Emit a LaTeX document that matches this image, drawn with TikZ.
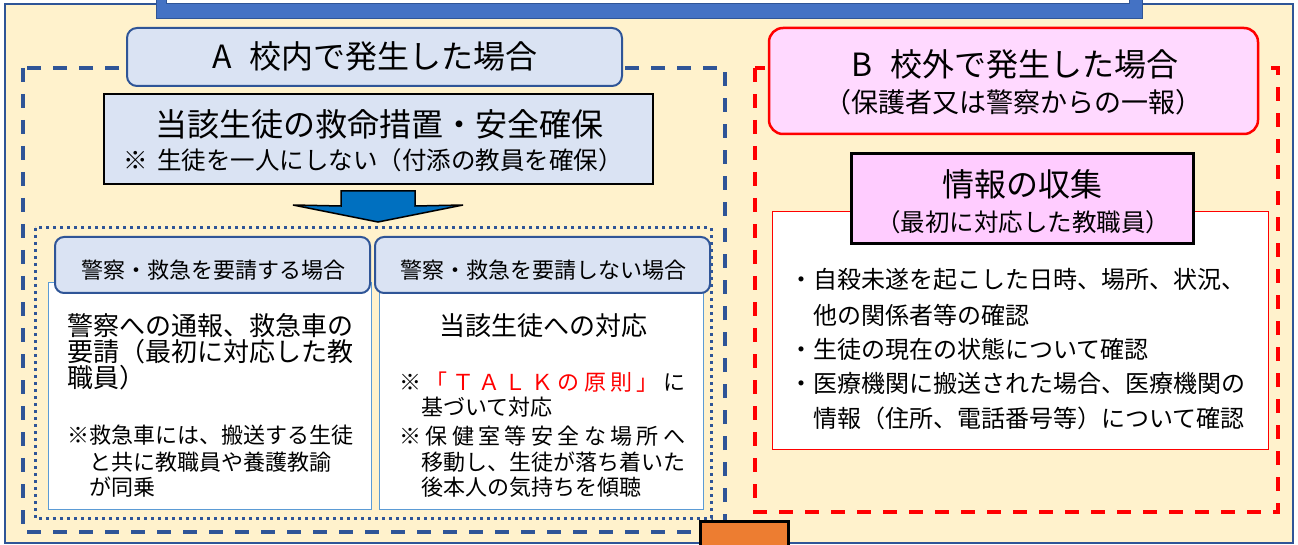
\documentclass[tikz,border=0pt]{standalone}
\usepackage{fontspec}
\setmainfont{Noto Sans CJK JP}
\definecolor{beige}{HTML}{FFF2CC}
\definecolor{dblue}{HTML}{2F5597}
\definecolor{mblue}{HTML}{4472C4}
\definecolor{lblue}{HTML}{DAE3F3}
\definecolor{sblue}{HTML}{5B9BD5}
\definecolor{pinkB}{HTML}{FFD9FF}
\definecolor{pinkI}{HTML}{FFCCFF}
\definecolor{arrowblue}{HTML}{0070C0}
\definecolor{orng}{HTML}{ED7D31}
\newcommand\fsz[1]{\fontsize{#1}{#1}\selectfont}
\makeatletter
\def\spendmark{\spend}
\newcommand\spreadbox[2]{\makebox[#1][s]{\sp@first#2\spend}}
\def\sp@first#1{{#1}\sp@loop}
\def\sp@loop#1{\def\sp@tmp{#1}\ifx\sp@tmp\spendmark\else\hfill{#1}\expandafter\sp@loop\fi}
\makeatother
\tikzset{
  txt/.style={inner sep=0pt, anchor=base west},
  ctxt/.style={inner sep=0pt, anchor=base},
  hdrbox/.style={rounded corners=9pt, fill=lblue, draw=dblue, line width=2pt},
  contbox/.style={fill=white, draw=sblue, line width=1pt},
}
\begin{document}
\begin{tikzpicture}[x=1pt,y=-1pt]
\useasboundingbox (0,0) rectangle (1298,545);
% outer background
\filldraw[fill=beige, draw=dblue, line width=1.5pt] (5,4) rectangle (1293,543);
% top blue box
\filldraw[fill=mblue, draw=dblue, line width=1pt] (156,-6) rectangle (1142,19);
\filldraw[fill=white, draw=dblue, line width=1pt] (166,-6) rectangle (1129,4);
% A dashed frame
\draw[dblue, line width=3.5pt, dash pattern=on 14pt off 12pt] (23,68) rectangle (725,532);
% B dashed frame
\draw[red, line width=4pt, dash pattern=on 14pt off 12pt] (755,68) rectangle (1278,512);
% A title
\draw[rounded corners=10pt, fill=lblue, draw=dblue, line width=2pt] (127,28) rectangle (622,86);
\node[ctxt, font=\fsz{32}] (atitle) at (375,69) {A\hspace{0.55em}校内で発生した場合};
% main box
\draw[fill=lblue, draw=black, line width=2pt] (104,94) rectangle (653,184);
\node[ctxt, font=\fsz{32}] (main1) at (379,137) {当該生徒の救命措置・安全確保};
\node[ctxt, font=\fsz{24.5}] (main2) at (373,170) {※\hspace{0.4em}生徒を一人にしない（付添の教員を確保）};
% arrow
\draw[fill=arrowblue, draw=black, line width=1.5pt, line join=miter]
  (341,191) -- (415,191) -- (415,206) -- (463,205) -- (378,222) -- (293,205) -- (341,206) -- cycle;
% dotted frame
\draw[dblue, line width=3pt, dash pattern=on 2.7pt off 4.3pt] (35,228) rectangle (711,518);
% content boxes
\draw[contbox] (48,283) rectangle (371,509);
\draw[contbox] (379,283) rectangle (703,509);
% headers
\draw[hdrbox] (55,237) rectangle (370,293);
\draw[hdrbox] (375,237) rectangle (710,293);
\node[ctxt, font=\fsz{22}] (hleft) at (213,279) {警察・救急を要請する場合};
\node[ctxt, font=\fsz{22}] (hright) at (543,279) {警察・救急を要請しない場合};
% left content
\node[txt, font=\fsz{26}] (l1) at (67,335) {警察への通報、救急車の};
\node[txt, font=\fsz{26}] (l2) at (67,361) {要請（最初に対応した教};
\node[txt, font=\fsz{26}] (l3) at (67,387) {職員）};
\node[txt, font=\fsz{22}] (l4) at (67,443) {※救急車には、搬送する生徒};
\node[txt, font=\fsz{22}] (l5) at (89,470) {と共に教職員や養護教諭};
\node[txt, font=\fsz{22}] (l6) at (89,495) {が同乗};
% right content
\node[ctxt, font=\fsz{26}] (r1) at (543,335) {当該生徒への対応};
\node[txt, font=\fsz{22}] (r2) at (399,390) {\spreadbox{286pt}{※{\color{red}「}{\color{red}Ｔ}{\color{red}Ａ}{\color{red}Ｌ}{\color{red}Ｋ}{\color{red}の}{\color{red}原}{\color{red}則}{\color{red}」}に}};
\node[txt, font=\fsz{22}] (r3) at (421,415) {基づいて対応};
\node[txt, font=\fsz{22}] (r4) at (399,444) {\spreadbox{286pt}{※保健室等安全な場所へ}};
\node[txt, font=\fsz{22}] (r5) at (421,470) {移動し、生徒が落ち着いた};
\node[txt, font=\fsz{22}] (r6) at (421,495) {後本人の気持ちを傾聴};
% B title box
\draw[rounded corners=14pt, fill=pinkB, draw=red, line width=2.5pt] (769,28) rectangle (1258,134);
\node[ctxt, font=\fsz{32}] (btitle) at (1015,77) {B\hspace{0.55em}校外で発生した場合};
\node[ctxt, font=\fsz{27}] (bsub) at (1013,113) {（保護者又は警察からの一報）};
% info white box
\draw[fill=white, draw=red, line width=1pt] (772,212) rectangle (1268,449);
% info pink box
\draw[fill=pinkI, draw=black, line width=3pt] (851,154) rectangle (1193,244);
\node[ctxt, font=\fsz{32}] (info1) at (1022,197) {情報の収集};
\node[ctxt, font=\fsz{24.5}] (info2) at (1023,231.5) {（最初に対応した教職員）};
% bullets
\node[txt, font=\fsz{24}] (b1) at (789,289) {・自殺未遂を起こした日時、場所、状況、};
\node[txt, font=\fsz{24}] (b2) at (813,324) {他の関係者等の確認};
\node[txt, font=\fsz{24}] (b3) at (789,358) {・生徒の現在の状態について確認};
\node[txt, font=\fsz{24}] (b4) at (789,392) {・医療機関に搬送された場合、医療機関の};
\node[txt, font=\fsz{24}] (b5) at (813,427) {情報（住所、電話番号等）について確認};
% orange box
\draw[fill=orng, draw=black, line width=3pt] (700,521) rectangle (788,560);
\end{tikzpicture}
\end{document}
